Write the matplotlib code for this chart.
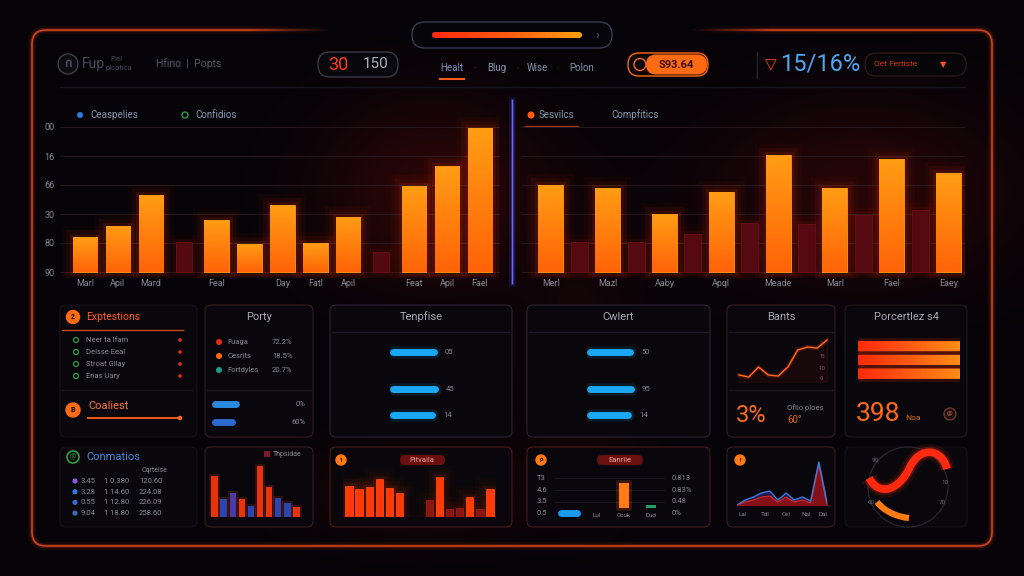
import numpy as np
import matplotlib
matplotlib.use("Agg")
import matplotlib.pyplot as plt
from matplotlib.patches import FancyBboxPatch, Circle, PathPatch
from matplotlib.path import Path
from matplotlib.collections import LineCollection
from matplotlib.colors import LinearSegmentedColormap, to_rgb

plt.rcParams["font.family"] = ["Roboto", "DejaVu Sans"]

# ---- data ----
left_labels = ["Marl", "Apil", "Mard", "", "Feal", "", "Day", "Fatl", "Apil", "", "Feat", "Apil", "Fael"]
left_vals = [24, 32, 53, 21, 36, 19, 46, 20, 38, 14, 59, 73, 99]
left_kind = ["a", "a", "a", "b", "a", "a", "a", "a", "a", "b", "a", "a", "a"]
left_yticks = ["90", "80", "30", "66", "16", "00"]

right_labels = ["Merl", "Mazl", "Aaby", "Apql", "Meade", "Marl", "Fael", "Eaey"]
right_vals = [60, 58, 40, 55, 81, 58, 78, 68]
right_prev = [21, 21, 26, 34, 33, 39, 43]

expl_items = ["Neer ta Ifam", "Delsse Eeal", "Stroat Gllay", "Enas Uary"]
party_names = ["Fuaga", "Cesrits", "Fortdyles"]
party_pcts = ["72.2%", "18.5%", "20.7%"]
party_bars = [25, 21]
party_bar_labels = ["0%", "60%"]

tenp_vals = [47, 48, 45]
tenp_labels = ["05", "45", "14"]
cwlert_vals = [46, 47, 44]
cwlert_labels = ["50", "95", "14"]

bants_line = [7, 5, 15, 7, 6, 15, 32, 35, 34, 42]
percent_vals = [100, 100, 100]

conn_rows = [("3.45", "1 0.380", "120.60"), ("3.28", "1 14.60", "224.08"),
             ("0.55", "1 12.80", "226.09"), ("9.04", "1 18.80", "258.60")]

h_vals = [41, 18, 24, 18, 11, 51, 30, 19, 14, 10]
h_kind = ["r", "b", "p", "r", "b", "r", "r", "b", "b", "r"]

i_vals = [31, 28, 30, 38, 29, 24, 0, 0, 17, 40, 8, 9, 20, 8, 28]
i_kind = ["a", "a", "a", "a", "a", "a", "a", "a", "b", "a", "b", "b", "a", "b", "a"]

j_labels = ["", "Lul", "Couk", "Dud"]
j_left = ["T3", "4.6", "3.5", "0.5"]
j_right = ["0.813", "0.83%", "0.48", "0%"]

k_blue = [0, 5, 8, 12, 14, 5, 12, 5, 8, 4, 43, 2]
k_red = [0, 3, 5, 8, 9, 3, 8, 3, 5, 2, 40, 0]
k_labels = ["Lal", "Tdl", "Cel", "Nal", "Dal"]

W, H = 1024, 576
BG = "#050308"
GREY = "#8a8a96"
ORANGE = "#ff7a12"

fig = plt.figure(figsize=(10.24, 5.76), dpi=100, facecolor=BG)
bg = fig.add_axes([0, 0, 1, 1])
bg.set_xlim(0, W)
bg.set_ylim(H, 0)
bg.axis("off")
bg.set_zorder(0)


def px_axes(x0, y0, x1, y1):
    ax = fig.add_axes([x0 / W, 1 - y1 / H, (x1 - x0) / W, (y1 - y0) / H])
    ax.set_facecolor("none")
    ax.set_zorder(2)
    for s in ax.spines.values():
        s.set_visible(False)
    return ax


def box(x0, y0, x1, y1, ec, fc="#09070b", r=6, lw=0.8, z=1):
    p = FancyBboxPatch((x0, y0), x1 - x0, y1 - y0, boxstyle=f"round,pad=0,rounding_size={r}",
                       ec=ec, fc=fc, lw=lw, zorder=z)
    bg.add_patch(p)
    return p


def txt(x, y, s, size, color, ha="left", **kw):
    bg.text(x, y, s, fontsize=size, color=color, ha=ha, va="center", zorder=5, **kw)


def icon(x, y, r, fc, ec, s="", tc="black"):
    bg.add_patch(Circle((x, y), r, fc=fc, ec=ec, lw=1, zorder=4))
    if s:
        bg.text(x, y, s, fontsize=r * 0.75, color=tc, ha="center", va="center", zorder=5, weight="bold")


def glow_bars(ax, xs, vals, width, c_top, c_bot, glow="#ff3a00", strength=1.0, gradient=True):
    xs = [x for x, v in zip(xs, vals) if v > 0]
    vals = [v for v in vals if v > 0]
    for lw, a in [(16, .035), (10, .06), (5, .10)]:
        ax.bar(xs, vals, width, color="none", edgecolor=glow, linewidth=lw, alpha=a * strength, zorder=1)
    bars = ax.bar(xs, vals, width, color=c_bot, edgecolor=c_top, linewidth=0.6, zorder=2)
    if gradient:
        cmap = LinearSegmentedColormap.from_list("g", [c_bot, c_top])
        grad = np.linspace(0, 1, 32).reshape(-1, 1)
        for b in bars:
            im = ax.imshow(grad, extent=[b.get_x(), b.get_x() + b.get_width(), 0, b.get_height()],
                           origin="lower", cmap=cmap, aspect="auto", zorder=3, interpolation="bicubic")
            im.set_clip_path(b)
    return bars


# background haze
yy, xx = np.mgrid[0:H:4, 0:W:4]
haze = (0.35 * np.exp(-(((xx - 430) / 110) ** 2 + ((yy - 190) / 90) ** 2))
        + 0.30 * np.exp(-(((xx - 860) / 150) ** 2 + ((yy - 190) / 90) ** 2))
        + 0.18 * np.exp(-(((xx - 420) / 120) ** 2 + ((yy - 490) / 50) ** 2))
        + 0.15 * np.exp(-(((xx - 580) / 60) ** 2 + ((yy - 360) / 120) ** 2)))
rgba = np.zeros(haze.shape + (4,))
rgba[..., 0] = 0.45
rgba[..., 1] = 0.05
rgba[..., 2] = 0.03
rgba[..., 3] = np.clip(haze, 0, 1)
bg.imshow(rgba, extent=[0, W, H, 0], zorder=0, aspect="auto", interpolation="bicubic")
bg.set_xlim(0, W)
bg.set_ylim(H, 0)

# outer frame
for lw, a in [(6, .08), (3, .18)]:
    box(32, 30, 992, 546, ec="#ff4a1a", fc="none", r=14, lw=lw, z=1).set_alpha(a)
box(32, 30, 992, 546, ec="#c8441a", fc="none", r=14, lw=1.2, z=1)
# top edge fades out in the middle
fx = np.arange(250, 772, 2)
segs = [[(x, 30), (x + 2, 30)] for x in fx]
fa = np.clip(np.minimum(fx - 250, 770 - fx) / 80.0, 0, 1)
fcols = [to_rgb(BG) + (a,) for a in fa]
bg.add_collection(LineCollection(segs, colors=fcols, linewidths=6, zorder=2, capstyle="butt"))

# ---- top bar ----
box(412, 22, 612, 48, ec="#3a3a52", fc="#06060a", r=13, lw=1, z=3)
cm_top = LinearSegmentedColormap.from_list("t", ["#ff2a10", "#ff5a10", "#ffa010"])
gp = FancyBboxPatch((432, 32), 150, 6, boxstyle="round,pad=0,rounding_size=3", fc="none", ec="none", zorder=4)
bg.add_patch(gp)
im = bg.imshow(np.linspace(0, 1, 64).reshape(1, -1), extent=[432, 582, 38, 32], cmap=cm_top,
               aspect="auto", zorder=4)
im.set_clip_path(gp)
bg.set_xlim(0, W)
bg.set_ylim(H, 0)
txt(597, 35, "›", 9, "#5a5a6a", ha="center")

icon(68, 64, 10, "#0c0c12", "#3a3a48", "Ո", tc="#4a4a58")
txt(82, 64, "Fup", 10, "#4a4a58")
txt(110, 59, "Fiel", 5.5, "#4a4a58")
txt(106, 68, "plcatica", 5.5, "#4a4a58")
txt(156, 64, "Hfino  |  Popts", 7.5, "#5a5a66")

box(318, 52, 398, 77, ec="#3a3a44", fc="#08080c", r=12, lw=1, z=3)
txt(338, 64.5, "30", 13, "#ff3a1a", ha="center")
txt(376, 64.5, "150", 11, "#b0b0ba", ha="center")

for x, s in zip([452, 497, 537, 582], ["Healt", "Blug", "Wise", "Polon"]):
    txt(x, 68, s, 7, "#7a90b8" if s == "Healt" else "#8a96b0", ha="center")
for x in [475, 518, 558]:
    txt(x, 68, "·", 7, "#4a4a58", ha="center")
bg.plot([440, 464], [79, 79], color="#ff5a1a", lw=1.5, zorder=4)

box(628, 53, 708, 76, ec="#ff6a10", fc="#0a0604", r=11, lw=1, z=3)
box(646, 54.5, 707, 74.5, ec="none", fc="#ff6a12", r=10, lw=0, z=3)
icon(640, 64.5, 6, "#0a0604", "#ff6a12")
txt(676, 64.5, "S93.64", 8, "#3a0800", ha="center", weight="bold")

bg.plot([757, 757], [52, 78], color="#22222a", lw=1, zorder=3)
txt(771, 65, "▽", 11, "#ff4020", ha="center")
txt(780, 64, "15/16%", 17, "#4aa8f0")
box(865, 53, 966, 76, ec="#2a1a1a", fc="#070507", r=11, lw=1, z=3)
txt(874, 64.5, "Oet Fertiste", 6, "#d04010")
txt(943, 64.5, "▼", 6, "#ff5010", ha="center")
bg.plot([60, 965], [87, 87], color="#16141c", lw=1, zorder=2)

# ---- main bar charts ----
u = 1.45  # px per value unit
ax1 = px_axes(60, 272 - 112 * u, 500, 272 + 4 * u)
xs = np.arange(len(left_vals))
va = [v if k == "a" else 0 for v, k in zip(left_vals, left_kind)]
vb = [v if k == "b" else 0 for v, k in zip(left_vals, left_kind)]
glow_bars(ax1, xs, vb, 0.5, "#6a1016", "#520a10", glow="#ff2000", strength=0.5, gradient=False)
glow_bars(ax1, xs, va, 0.74, "#ff9c14", "#ff6408")
ax1.set_xlim(-0.76, 12.61)
ax1.set_ylim(-4, 112)
ax1.set_yticks([0, 20, 40, 60, 80, 100])
ax1.set_yticklabels(left_yticks)
ax1.set_xticks(xs)
ax1.set_xticklabels(left_labels)
ax1.tick_params(axis="y", colors=GREY, labelsize=6.5, length=0, pad=4)
ax1.tick_params(axis="x", colors=GREY, labelsize=6.5, length=0, pad=1)
ax1.grid(axis="y", color="#2a1c22", lw=0.6, zorder=0)
ax1.set_axisbelow(True)

ax2 = px_axes(522, 272 - 112 * u, 965, 272 + 4 * u)
xr = np.arange(len(right_vals))
glow_bars(ax2, xr[:-1] + 0.5, right_prev, 0.3, "#6a1016", "#540a10", glow="#ff2000", strength=0.5,
          gradient=False)
glow_bars(ax2, xr, right_vals, 0.44, "#ff9c14", "#ff6408")
ax2.set_xlim(-0.51, 7.29)
ax2.set_ylim(-4, 112)
ax2.set_yticks([0, 20, 40, 60, 80, 100])
ax2.set_yticklabels([])
ax2.set_xticks(xr)
ax2.set_xticklabels(right_labels)
ax2.tick_params(axis="y", length=0)
ax2.tick_params(axis="x", colors=GREY, labelsize=6.5, length=0, pad=1)
ax2.grid(axis="y", color="#2a1c22", lw=0.6, zorder=0)
ax2.set_axisbelow(True)

# divider
for lw, a in [(5, .12), (2.5, .25)]:
    bg.plot([512, 512], [100, 283], color="#5050ff", lw=lw, alpha=a, zorder=3)
bg.plot([512, 512], [100, 283], color="#6a6af0", lw=1, zorder=3)

# legends
bg.add_patch(Circle((80, 115), 3, fc="#2a7ae0", ec="none", zorder=4))
txt(90, 115, "Ceaspelies", 7, "#8a9ab0")
bg.add_patch(Circle((185, 115), 3, fc="none", ec="#30a040", lw=1, zorder=4))
txt(195, 115, "Confidios", 7, "#8a9ab0")
bg.add_patch(Circle((531, 115), 3.5, fc="#ff5a10", ec="none", zorder=4))
txt(539, 115, "Sesvilcs", 7, "#8a9ab0")
bg.plot([525, 578], [126, 126], color="#ff5a1a", lw=1, alpha=0.6, zorder=4)
txt(611, 115, "Compfitics", 7, "#8a9ab0")

# ---- bottom panels row 1 ----
box(60, 305, 197, 437, ec="#161218")
box(205, 305, 313, 437, ec="#3a1a22")
box(330, 305, 512, 437, ec="#2a2232")
box(527, 305, 710, 437, ec="#2a2232")
box(727, 305, 835, 437, ec="#3a1a22")
box(845, 305, 967, 437, ec="#1e1a1e")

# explestions
icon(73, 317, 6.5, "#ff6a12", "#ff6a12", "2")
txt(86, 317, "Exptestions", 7.5, "#ff5a20")
bg.plot([62, 183], [330, 330], color="#c8441a", lw=1, zorder=3)
for i, s in enumerate(expl_items):
    y = 340 + i * 12
    bg.add_patch(Circle((76, y), 2.5, fc="none", ec="#30a040", lw=0.9, zorder=4))
    txt(86, y, s, 5.5, "#8a8a94")
    bg.add_patch(Circle((180, y), 1.8, fc="#e0301a", ec="none", zorder=4))
bg.plot([62, 192], [390, 390], color="#18161c", lw=1, zorder=3)
icon(73, 410, 7, "#ff6a12", "#ff6a12", "B")
txt(88, 406, "Coaliest", 8, "#ff7a40")
bg.plot([88, 180], [418, 418], color="#e85a1a", lw=1.5, zorder=3)
bg.add_patch(Circle((180, 418), 2.2, fc="#ff6a1a", ec="none", zorder=4))

# party
txt(259, 317, "Porty", 8, "#a8a8b4", ha="center")
for i, (n, p, c) in enumerate(zip(party_names, party_pcts, ["#e02a1a", "#ff6a1a", "#1a9a8a"])):
    y = 342 + i * 14
    bg.add_patch(Circle((219, y), 3, fc=c, ec="none", zorder=4))
    txt(227, y, n, 5.5, "#8a8a94")
    txt(272, y, p, 5.5, "#8a8a94")
bg.plot([207, 311], [390, 390], color="#1c1a20", lw=1, zorder=3)
axb = px_axes(212, 395, 306, 431)
axb.axis("off")
for i, (v, lab, c) in enumerate(zip(party_bars, party_bar_labels, ["#2a8ae0", "#2a6ad0"])):
    axb.plot([0, v - 3], [1 - i, 1 - i], color=c, lw=5, solid_capstyle="round")
    axb.text(94, 1 - i, lab, fontsize=5.5, color="#8a8a94", ha="right", va="center")
axb.set_xlim(-3, 94)
axb.set_ylim(-0.5, 1.5)


def pill_panel(x0, x1, title, vals, labels):
    txt((x0 + x1) / 2, 317, title, 8, "#a8a8b4", ha="center")
    bg.plot([x0 + 2, x1 - 2], [332, 332], color="#1c1a24", lw=1, zorder=3)
    ax = px_axes(x0 + 60, 340, x0 + 140, 427)
    ax.axis("off")
    ys = [352, 389, 415]
    for v, lab, y in zip(vals, labels, ys):
        ax.plot([3, v - 3], [y, y], color="#1aa8f5", lw=5, solid_capstyle="round")
        ax.plot([3, v - 3], [y, y], color="#1aa8f5", lw=9, alpha=0.12, solid_capstyle="round")
        ax.text(v + 8, y, lab, fontsize=5.5, color="#8a8a94", va="center")
    ax.set_xlim(0, 80)
    ax.set_ylim(427, 340)


pill_panel(330, 512, "Tenpfise", tenp_vals, tenp_labels)
pill_panel(527, 710, "Cwlert", cwlert_vals, cwlert_labels)

# bants
txt(781, 317, "Bants", 8, "#a8a8b4", ha="center")
bg.plot([729, 833], [332, 332], color="#1c1a20", lw=1, zorder=3)
ax5 = px_axes(737, 335, 829, 382)
ax5.axis("off")
xl = np.arange(len(bants_line))
ax5.fill_between(xl, bants_line, 0, color="#ff3010", alpha=0.06)
ax5.plot(xl, bants_line, color="#ff3a10", lw=3, alpha=0.2)
ax5.plot(xl, bants_line, color="#ff6a20", lw=1)
ax5.set_xlim(-0.2, 9.2)
ax5.set_ylim(0, 47)
for y, s in zip([342, 356, 368, 378], ["-", "15", "-10", "-0"]):
    txt(822, y, s, 3.5, "#6a6a74", ha="center")
bg.plot([729, 833], [390, 390], color="#1c1a20", lw=1, zorder=3)
txt(736, 415, "3%", 17, "#ff6a1a")
txt(787, 408, "Oflio ploes", 5.5, "#8a8a94")
txt(787, 420, "60°", 7, "#e06a1a")

# percent bars
txt(906, 317, "Porcertlez s4", 8, "#a8a8b4", ha="center")
ax6 = px_axes(858, 338, 960, 382)
ax6.axis("off")
cm_p = LinearSegmentedColormap.from_list("p", ["#ff2a0a", "#ff5a10", "#ff8c14"])
ypos = np.arange(len(percent_vals))[::-1]
for y, v in zip(ypos, percent_vals):
    for lw, a in [(10, .06), (5, .12)]:
        ax6.barh(y, v, 0.74, color="none", edgecolor="#ff3000", linewidth=lw, alpha=a)
    p = FancyBboxPatch((0, y - 0.37), v, 0.74, boxstyle="round,pad=0,rounding_size=0.2",
                       mutation_aspect=1, fc="#ff4a10", ec="none")
    ax6.add_patch(p)
    im = ax6.imshow(np.linspace(0, 1, 64).reshape(1, -1), extent=[0, v, y - 0.37, y + 0.37],
                    cmap=cm_p, aspect="auto", zorder=3)
    im.set_clip_path(p)
ax6.set_xlim(0, 100)
ax6.set_ylim(-0.6, 2.6)
txt(856, 414, "398", 19, "#ff6a1a")
txt(905, 418, "Noa", 6, "#e06a1a")
icon(950, 414, 6, "#1a1012", "#6a3a2a", "@", tc="#a05030")

# ---- bottom panels row 2 ----
box(60, 447, 197, 527, ec="#161218")
box(205, 447, 313, 527, ec="#3a1a22")
box(330, 447, 512, 527, ec="#4a1a1a")
box(527, 447, 710, 527, ec="#4a1a1a")
box(727, 447, 835, 527, ec="#3a1a22")
box(845, 447, 967, 527, ec="#141216")

# connatios
bg.add_patch(Circle((73, 457), 6, fc="none", ec="#30a040", lw=1.2, zorder=4))
txt(73, 457, "@", 5, "#30a040", ha="center")
txt(86, 457, "Conmatios", 8, "#4a8ad8")
txt(155, 470, "Cqrtelse", 5, "#8a8a94", ha="center")
for i, (row, c) in enumerate(zip(conn_rows, ["#8a5ad8", "#2a7ae0", "#3a6ad0", "#3a6ab0"])):
    y = 481 + i * 10.7
    bg.add_patch(Circle((75, y), 2.6, fc=c, ec="none", zorder=4))
    txt(81, y, row[0], 5.5, "#8a8a94")
    txt(104, y, row[1], 5.5, "#8a8a94")
    txt(139, y, row[2], 5.5, "#8a8a94")

# panel H
bg.add_patch(FancyBboxPatch((264, 451), 6, 6, boxstyle="square,pad=0", fc="#7a1a2a", ec="none", zorder=4))
txt(273, 454, "Thpsidae", 5, "#8a8a94")
ax8 = px_axes(209, 460, 302, 517)
ax8.axis("off")
hc = {"r": "#e8340e", "b": "#2c44b0", "p": "#4a3aa8"}
ax8.bar(np.arange(len(h_vals)), h_vals, 0.7, color=[hc[k] for k in h_kind], edgecolor="#ff4010",
        linewidth=3, alpha=0.15)
ax8.bar(np.arange(len(h_vals)), h_vals, 0.7, color=[hc[k] for k in h_kind])
ax8.set_xlim(-0.6, len(h_vals) - 0.4)
ax8.set_ylim(0, 57)

# panel I
icon(341, 460, 5, "#ff7a10", "#ff7a10", "1")
box(400, 455, 445, 465, ec="none", fc="#6a1010", r=5, z=3)
txt(422, 460, "Pitvaila", 5.5, "#e89a9a", ha="center")
ax9 = px_axes(343, 462, 496, 517)
ax9.axis("off")
xi = np.arange(len(i_vals))
ia = [v if k == "a" else 0 for v, k in zip(i_vals, i_kind)]
ib = [v if k == "b" else 0 for v, k in zip(i_vals, i_kind)]
glow_bars(ax9, xi, ib, 0.72, "#a01a10", "#8a1610", strength=0.4, gradient=False)
glow_bars(ax9, xi, ia, 0.72, "#ff4a0a", "#ff3a08", strength=0.7, gradient=False)
ax9.set_xlim(-0.6, len(i_vals) - 0.4)
ax9.set_ylim(0, 55)

# panel J
icon(541, 460, 5, "#ff7a10", "#ff7a10", "P")
box(597, 455, 643, 465, ec="none", fc="#6a1010", r=5, z=3)
txt(620, 460, "Eanriie", 5.5, "#e89a9a", ha="center")
for i, (l, r) in enumerate(zip(j_left, j_right)):
    y = 478 + i * 11.7
    txt(537, y, l, 5.5, "#8a8a94")
    txt(672, y, r, 5.5, "#8a8a94")
ax10 = px_axes(555, 470, 665, 517)
ax10.axis("off")
for gy in [39, 27, 15]:
    ax10.axhline(gy, color="#1c1a22", lw=0.6, zorder=0)
ax10.plot([-0.3, 0.3], [4, 4], color="#1a9af0", lw=5, solid_capstyle="round")
ax10.bar(2, 25, 0.36, bottom=9, color="none", edgecolor="#ff5a10", linewidth=4, alpha=0.2, zorder=2)
ax10.bar(2, 25, 0.36, bottom=9, color="#ff7a12", zorder=3)
ax10.bar(3, 3, 0.36, bottom=9, color="#20a060", zorder=3)
for x, s in enumerate(j_labels):
    ax10.text(x, 1.5, s, fontsize=4.5, color="#8a8a94", ha="center", va="center")
ax10.set_xlim(-0.5, 3.5)
ax10.set_ylim(0, 47)

# panel K
icon(740, 460, 5, "#ff7a10", "#ff7a10", "!")
ax11 = px_axes(737, 455, 827, 505)
ax11.axis("off")
xk = np.arange(len(k_blue))
ax11.fill_between(xk, k_blue, 0, color="#3a2a80", alpha=0.5)
ax11.fill_between(xk, k_red, 0, color="#8a1018", alpha=0.95)
ax11.plot(xk, k_red, color="#d02a2a", lw=0.8)
ax11.plot(xk, k_blue, color="#3a7ad8", lw=1)
ax11.set_xlim(0, len(k_blue) - 1)
ax11.set_ylim(0, 50)
for x, s in zip([743, 765, 786, 806, 823], k_labels):
    txt(x, 514, s, 4.5, "#8a8a94", ha="center")

# panel L
bg.add_patch(Circle((908, 487), 40, fc="none", ec="#2a2a32", lw=0.8, zorder=3))
for x, y, s in [(875, 460, "90"), (945, 483, "10"), (871, 503, "60"), (942, 502, "70")]:
    txt(x, y, s, 4.5, "#6a6a74", ha="center")
s_path = Path([(947, 469), (942, 448), (920, 446), (910, 467), (900, 489), (880, 498), (869, 478)],
              [Path.MOVETO, Path.CURVE4, Path.CURVE4, Path.CURVE4, Path.CURVE4, Path.CURVE4, Path.CURVE4])
for lw, a in [(12, .1), (8, .2)]:
    bg.add_patch(PathPatch(s_path, fc="none", ec="#ff2a10", lw=lw, alpha=a, capstyle="butt", zorder=4))
bg.add_patch(PathPatch(s_path, fc="none", ec="#ff2a10", lw=5.5, capstyle="butt", zorder=4))
o_path = Path([(877, 502), (885, 512), (898, 517), (909, 518)],
              [Path.MOVETO, Path.CURVE4, Path.CURVE4, Path.CURVE4])
bg.add_patch(PathPatch(o_path, fc="none", ec="#ff7a10", lw=4.5, capstyle="butt", zorder=4))

fig.savefig("out.png", dpi=100, facecolor=BG)
